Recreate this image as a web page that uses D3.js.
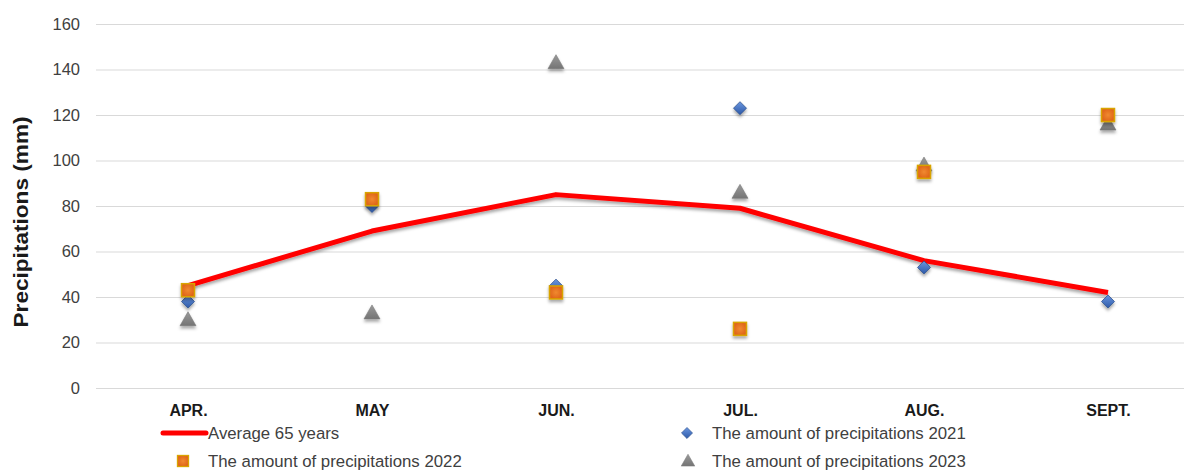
<!DOCTYPE html>
<html><head><meta charset="utf-8">
<script src="https://cdn.jsdelivr.net/npm/d3@7/dist/d3.min.js"></script>
<style>
html,body{margin:0;padding:0;background:#fff;overflow:hidden}
svg{display:block}
</style></head>
<body>
<svg id="chart" width="1184" height="470"></svg>
<script>
const months = ["APR.", "MAY", "JUN.", "JUL.", "AUG.", "SEPT."];
const average65 = [45, 69, 85, 79, 56, 42];
const precip2021 = [38, 80, 45, 123, 53, 38];
const precip2022 = [43, 83, 42, 26, 95, 120];
const precip2023 = [30, 33, 143, 86, 98, 116];
const yTicks = [0, 20, 40, 60, 80, 100, 120, 140, 160];
const seriesNames = ["Average 65 years", "The amount of precipitations 2021", "The amount of precipitations 2022", "The amount of precipitations 2023"];
const yTitle = "Precipitations (mm)";

const svg = d3.select("#chart");
const plot = {left: 96, right: 1200, top: 24, bottom: 388};

const x = d3.scalePoint().domain(months).range([plot.left, plot.right]).padding(0.5);
const y = d3.scaleLinear().domain([0, 160]).range([plot.bottom, plot.top]);

const defs = svg.append("defs");
const sh = defs.append("filter").attr("id","shadow").attr("x","-50%").attr("y","-50%").attr("width","200%").attr("height","200%");
sh.append("feDropShadow").attr("dx",0).attr("dy",2.5).attr("stdDeviation",1.6).attr("flood-color","#000").attr("flood-opacity",0.35);
const gB = defs.append("linearGradient").attr("id","gBlue").attr("x1",0).attr("y1",0).attr("x2",0).attr("y2",1);
gB.append("stop").attr("offset","0%").attr("stop-color","#6a96e0");
gB.append("stop").attr("offset","100%").attr("stop-color","#2e5aa8");
const gO = defs.append("radialGradient").attr("id","gOrange");
gO.append("stop").attr("offset","0%").attr("stop-color","#f08a30");
gO.append("stop").attr("offset","100%").attr("stop-color","#e0661a");
const gG = defs.append("linearGradient").attr("id","gGray").attr("x1",0).attr("y1",0).attr("x2",0).attr("y2",1);
gG.append("stop").attr("offset","0%").attr("stop-color","#9a9a9a");
gG.append("stop").attr("offset","100%").attr("stop-color","#747474");

// gridlines
const yAxis = d3.axisLeft(y).tickValues(yTicks).tickSize(-(plot.right - plot.left)).tickPadding(16);
const ga = svg.append("g").attr("transform", `translate(${plot.left},0)`).call(yAxis);
ga.select(".domain").remove();
ga.selectAll(".tick line").attr("stroke", "#d9d9d9").attr("stroke-width", 1);
ga.selectAll(".tick text").attr("fill", "#404040").style("font-family", "'Liberation Sans', Arial, sans-serif").style("font-size", "16.5px");

// x axis labels
const xAxis = d3.axisBottom(x).tickSize(0).tickPadding(17);
const gx = svg.append("g").attr("transform", `translate(0,${plot.bottom})`).call(xAxis);
gx.select(".domain").remove();
gx.selectAll(".tick text").attr("fill", "#1a1a1a").style("font-family", "'Liberation Sans Narrow', 'Liberation Sans', Arial, sans-serif").style("font-weight", "bold").style("font-size", "16px");

// y title
svg.append("text").attr("transform", `translate(21,${222}) rotate(-90)`)
  .attr("text-anchor","middle").attr("dy","0.35em").attr("fill","#1a1a1a")
  .attr("textLength", 211).attr("lengthAdjust","spacingAndGlyphs")
  .style("font-family","'Liberation Sans', Arial, sans-serif").style("font-weight","bold").style("font-size","20px")
  .text(yTitle);

// average line
const line = d3.line().x((d,i)=>x(months[i])).y(d=>y(d));
svg.append("path").datum(average65).attr("d", line).attr("fill","none").attr("stroke","#ff0000")
  .attr("stroke-width",5).attr("stroke-linejoin","round").attr("filter","url(#shadow)");

function diamond(g){ g.append("path").attr("d","M0,-6.5 L6.5,0 L0,6.5 L-6.5,0 Z").attr("fill","url(#gBlue)").attr("stroke","#2f528f").attr("stroke-width",0.8); }
function square(g){ g.append("rect").attr("x",-6.5).attr("y",-6.5).attr("width",13).attr("height",13).attr("fill","url(#gOrange)").attr("stroke","#d9a400").attr("stroke-width",1.5); }
function triangle(g){ g.append("path").attr("d","M0,-8 L8,6 L-8,6 Z").attr("fill","url(#gGray)").attr("stroke","#7a7a7a").attr("stroke-width",0.6); }

function drawSeries(data, fn){
  const g = svg.append("g");
  data.forEach((v,i)=>{
    const m = g.append("g").attr("transform",`translate(${x(months[i])},${y(v)})`).attr("filter","url(#shadow)");
    fn(m);
  });
}
drawSeries(precip2023, triangle);
drawSeries(precip2021, diamond);
drawSeries(precip2022, square);

// legend
const lg = svg.append("g").style("font-family","'Liberation Sans', Arial, sans-serif").style("font-size","16.8px").attr("fill","#404040");
const legendItems = [
  {name: seriesNames[0], mx: 184, tx: 208, y: 433, kind: "line"},
  {name: seriesNames[1], mx: 687, tx: 712, y: 433, kind: "diamond"},
  {name: seriesNames[2], mx: 183, tx: 208, y: 461, kind: "square"},
  {name: seriesNames[3], mx: 688, tx: 712, y: 461, kind: "triangle"}
];
legendItems.forEach(it=>{
  if(it.kind==="line"){
    lg.append("line").attr("x1",163).attr("x2",206).attr("y1",it.y).attr("y2",it.y).attr("stroke","#ff0000").attr("stroke-width",5).attr("stroke-linecap","round");
  } else {
    const m = lg.append("g").attr("transform",`translate(${it.mx},${it.y}) scale(0.85)`);
    if(it.kind==="diamond") diamond(m);
    if(it.kind==="square") square(m);
    if(it.kind==="triangle") triangle(m);
  }
  lg.append("text").attr("x",it.tx).attr("y",it.y).attr("dy","0.35em").text(it.name);
});
</script>
</body></html>
